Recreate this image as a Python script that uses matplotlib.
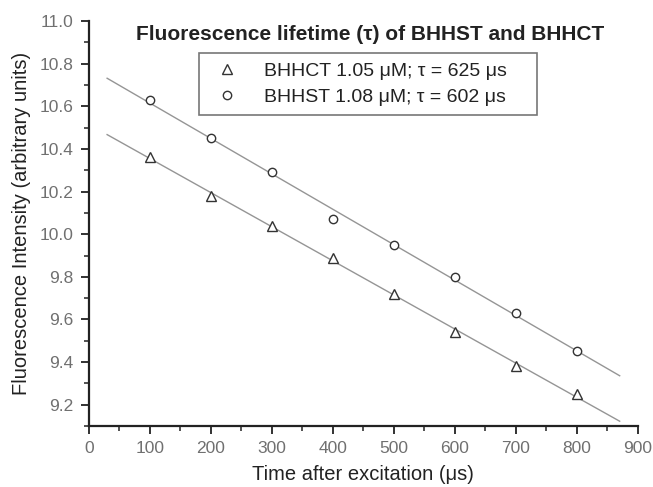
import numpy as np
import matplotlib
matplotlib.use("Agg")
import matplotlib.pyplot as plt
from matplotlib.ticker import MultipleLocator

plt.rcParams['font.family'] = ['Liberation Sans', 'DejaVu Sans']

time_us = [100, 200, 300, 400, 500, 600, 700, 800]
bhhct = [10.36, 10.18, 10.04, 9.89, 9.72, 9.54, 9.38, 9.25]
bhhst = [10.63, 10.45, 10.29, 10.07, 9.95, 9.80, 9.63, 9.45]
label_bhhct = "BHHCT 1.05 \u03bcM; \u03c4 = 625 \u03bcs"
label_bhhst = "BHHST 1.08 \u03bcM; \u03c4 = 602 \u03bcs"

fig = plt.figure(figsize=(6.53, 4.87), dpi=100)
ax = fig.add_axes([0.136, 0.125, 0.841, 0.832])

xfit = np.linspace(30, 870, 50)
for ys in (bhhct, bhhst):
    p = np.polyfit(time_us, ys, 1)
    ax.plot(xfit, np.polyval(p, xfit), color='#959595', lw=1.0, zorder=1)

ax.plot(time_us, bhhct, linestyle='none', marker='^', ms=7.5, mfc='white',
        mec='#333333', mew=1.0, label=label_bhhct + "    ", zorder=3)
ax.plot(time_us, bhhst, linestyle='none', marker='o', ms=6, mfc='white',
        mec='#333333', mew=1.0, label=label_bhhst + "    ", zorder=3)

ax.set_xlim(0, 900)
ax.set_ylim(9.1, 11.0)
ax.xaxis.set_major_locator(MultipleLocator(100))
ax.xaxis.set_minor_locator(MultipleLocator(50))
ax.yaxis.set_major_locator(MultipleLocator(0.2))
ax.yaxis.set_minor_locator(MultipleLocator(0.1))
ax.yaxis.set_major_formatter(matplotlib.ticker.FormatStrFormatter('%.1f'))
for s in ('top', 'right'):
    ax.spines[s].set_visible(False)
for s in ('left', 'bottom'):
    ax.spines[s].set_linewidth(1.6)
    ax.spines[s].set_color('#222222')
ax.tick_params(which='major', direction='out', length=6, width=1.3,
               labelsize=12.5, labelcolor='#707070', color='#222222', pad=5)
ax.tick_params(which='minor', direction='out', length=3.5, width=1.1, color='#222222')

ax.set_xlabel("Time after excitation (\u03bcs)", fontsize=14.5, color='#222222', labelpad=6)
ax.set_ylabel("Fluorescence Intensity (arbitrary units)", fontsize=14.5, color='#222222', labelpad=6)
ax.text(0.512, 0.99, "Fluorescence lifetime (\u03c4) of BHHST and BHHCT",
        transform=ax.transAxes, ha='center', va='top', fontsize=15,
        fontweight='bold', color='#222222')

leg = ax.legend(loc='upper left', bbox_to_anchor=(0.2, 0.92), fontsize=14,
                frameon=True, fancybox=False, edgecolor='#555555',
                handletextpad=0.9, borderpad=0.45, labelspacing=0.45,
                handlelength=2.0, borderaxespad=0)
leg.get_frame().set_linewidth(1.2)
for t in leg.get_texts():
    t.set_color('#222222')

fig.savefig("out.png", dpi=100)
